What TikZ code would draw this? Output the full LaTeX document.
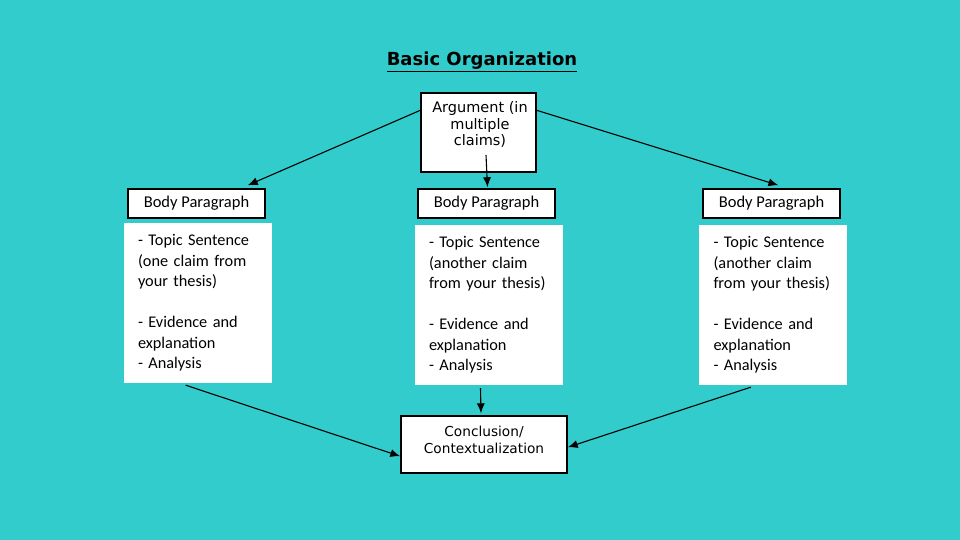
\documentclass[tikz,border=0pt]{standalone}
\usepackage{fontspec}
\setmainfont{DejaVu Sans}
\newfontfamily\calib{Carlito}
\usetikzlibrary{calc,arrows.meta}
\definecolor{bgteal}{RGB}{51,204,204}
\tikzset{
  x=1pt,y=-1pt,
  framebox/.style={draw=black,line width=1.4pt,fill=white,inner sep=0pt},
  hdrbox/.style={framebox,minimum width=137pt,minimum height=29pt,font=\calib\fontsize{16.5}{18}\selectfont},
  contentbox/.style={fill=white,inner sep=0pt,minimum width=148pt,minimum height=160pt,text width=119pt,align=left,font=\calib\fontsize{16.3}{20.5}\selectfont},
  boxtext/.style={inner sep=0pt,align=center},
  conn/.style={line width=1.1pt,-{Latex[length=10pt,width=8pt]}}
}
\begin{document}
\begin{tikzpicture}
\fill[bgteal] (0,0) rectangle (960,540);
\useasboundingbox (0,0) rectangle (960,540);
\node[font=\bfseries\fontsize{18}{20}\selectfont] (title) at (482,62) {\underline{Basic Organization}};
\node[framebox,minimum width=115pt,minimum height=79pt] (arg) at (478.5,132.5) {};
\node[boxtext,font=\fontsize{14.5}{16.5}\selectfont] (argtext) at (480,124.5) {Argument (in\\multiple\\claims)};
\node[hdrbox] (bp1) at (196.5,203.5) {Body Paragraph};
\node[hdrbox] (bp2) at (486.5,203.5) {Body Paragraph};
\node[hdrbox] (bp3) at (771.5,203.5) {Body Paragraph};
\node[contentbox] (c1) at (197.5,303) {- Topic Sentence\\(one claim from\\your thesis)\\[20.5pt]- Evidence and\\explanation\\- Analysis};
\node[contentbox] (c2) at (488.5,305) {- Topic Sentence\\(another claim\\from your thesis)\\[20.5pt]- Evidence and\\explanation\\- Analysis};
\node[contentbox] (c3) at (773,305) {- Topic Sentence\\(another claim\\from your thesis)\\[20.5pt]- Evidence and\\explanation\\- Analysis};
\node[framebox,minimum width=166pt,minimum height=57pt] (conc) at (484,444.5) {};
\node[boxtext,font=\fontsize{13.7}{16.5}\selectfont] (conctext) at (484,440) {Conclusion/\\Contextualization};
\coordinate (argin) at (486,155);
\draw[conn] ($(arg.north west)+(0,18)$) -- ($(bp1.north west)!0.87!(bp1.north east)+(0,-3)$);
\draw[conn] ($(arg.north east)+(0,18)$) -- ($(bp3.north west)!0.55!(bp3.north east)+(0,-3)$);
\draw[conn] (argin) -- ($(bp2.north)+(1,-1)$);
\draw[conn] ($(c1.south west)!0.42!(c1.south east)+(0,2)$) -- ($(conc.north west)+(0,41)$);
\draw[conn] ($(c2.south)+(-8,3)$) -- ($(conc.north)+(-3,-2)$);
\draw[conn] ($(c3.south west)!0.35!(c3.south east)+(0,2)$) -- ($(conc.north east)+(0,32)$);
\end{tikzpicture}
\end{document}
